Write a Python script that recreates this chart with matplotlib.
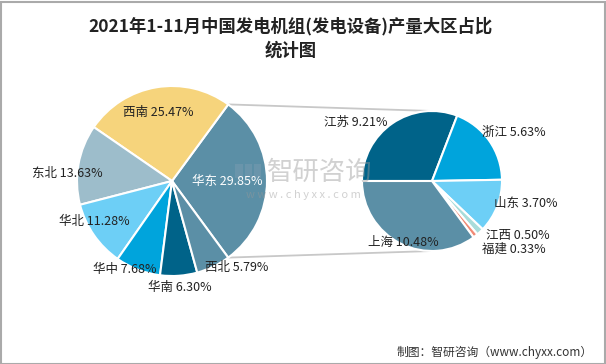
import numpy as np
import matplotlib
matplotlib.use('Agg')
import matplotlib.pyplot as plt
from matplotlib.patches import Rectangle

plt.rcParams['font.family'] = ['Noto Sans CJK SC', 'DejaVu Sans']

# data
regions = ['华东', '西南', '东北', '华北', '华中', '华南', '西北']
region_share = [29.85, 25.47, 13.63, 11.28, 7.68, 6.30, 5.79]
region_colors = ['#5b8fa6', '#f6d47c', '#9dbdcb', '#6dcff6', '#00a4dc', '#006389', '#5b8fa6']

provinces = ['江苏', '浙江', '山东', '江西', '福建', '上海']
prov_share = [9.21, 5.63, 3.70, 0.50, 0.33, 10.48]
prov_colors = ['#006389', '#00a4dc', '#6dcff6', '#a9dcda', '#f18b76', '#5b8fa6']

title = '2021年1-11月中国发电机组(发电设备)产量大区占比\n统计图'
source = '制图：智研咨询（www.chyxx.com）'

W, H = 606, 364
fig = plt.figure(figsize=(W / 100, H / 100), dpi=100)
ax = fig.add_axes([0, 0, 1, 1])

# pie geometry in pixels (y measured from bottom)
c1, r1 = (172, H - 181), 95
c2, r2 = (432, H - 181), 70

start1 = -region_share[0] / 100 * 360 / 2
w1, _ = ax.pie(region_share, colors=region_colors, startangle=start1, counterclock=True,
               center=c1, radius=r1, wedgeprops=dict(edgecolor='white', linewidth=1.5))
w2, _ = ax.pie(prov_share, colors=prov_colors, startangle=180, counterclock=False,
               center=c2, radius=r2, wedgeprops=dict(edgecolor='white', linewidth=1.5))

# label layout: (radius factor, angle shift in degrees)
lay1 = [(0.58, 0), (0.74, 2), (1.1, 6), (0.92, -7), (1.06, -7), (1.12, 0), (1.14, 11)]
lay2 = [(1.38, 18), (1.36, -4), (1.38, 8), (1.45, 14), (1.52, 12), (0.96, 2)]

def put_labels(wedges, names, vals, center, radius, lay, white_first=False):
    for i, (w, n, v) in enumerate(zip(wedges, names, vals)):
        mid = (w.theta1 + w.theta2) / 2 + lay[i][1]
        rr = radius * lay[i][0]
        x = center[0] + rr * np.cos(np.radians(mid))
        y = center[1] + rr * np.sin(np.radians(mid))
        col = 'white' if (white_first and i == 0) else '#222222'
        ax.text(x, y, f'{n} {v:.2f}%', ha='center', va='center', fontsize=9, color=col, zorder=6)

put_labels(w1, regions, region_share, c1, r1, lay1, white_first=True)
put_labels(w2, provinces, prov_share, c2, r2, lay2)

# connector lines
a_top = np.radians(w1[0].theta2)
a_bot = np.radians(w1[0].theta1)
ax.plot([c1[0] + r1 * np.cos(a_top), c2[0]], [c1[1] + r1 * np.sin(a_top), c2[1] + r2],
        color='#c8c8c8', lw=1.3, zorder=0)
ax.plot([c1[0] + r1 * np.cos(a_bot), c2[0]], [c1[1] + r1 * np.sin(a_bot), c2[1] - r2],
        color='#c8c8c8', lw=1.3, zorder=0)

# watermark
ax.text(320, H - 172, '智研咨询', ha='center', va='center', fontsize=19,
        color='#999999', alpha=0.45, zorder=5)
ax.text(303, H - 195, 'w w w . c h y x x . c o m', ha='center', va='center', fontsize=8,
        color='#999999', alpha=0.45, zorder=5)
# logo blocks
for (lx, ly, lw_, lh) in [(235, H - 178, 8, 14), (245, H - 178, 7, 14), (254, H - 178, 7, 14)]:
    ax.add_patch(Rectangle((lx, ly), lw_, lh, facecolor='#8fa5b8', alpha=0.3,
                           edgecolor='none', zorder=5))

ax.set_xlim(0, W)
ax.set_ylim(0, H)
ax.set_aspect('equal')
ax.axis('off')

fig.text(291 / W, 1 - 38 / H, title, ha='center', va='center', fontsize=12.5,
         fontweight='bold', color='#222222', linespacing=1.45)
fig.text(593 / W, 1 - 352 / H, source, ha='right', va='center', fontsize=8.5, color='#333333')

fig.patches.append(Rectangle((0.5 / W, 0.5 / H), 1 - 2 / W, 1 - 2 / H, transform=fig.transFigure,
                             fill=False, edgecolor='#aaaaaa', linewidth=1.5))

fig.savefig('out.png', dpi=100)
